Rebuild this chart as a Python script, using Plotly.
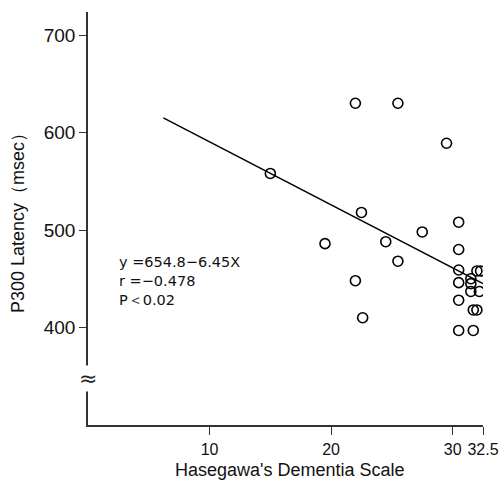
import plotly.graph_objects as go

# Data
hds = [15, 22, 25.5, 29.5, 22.5, 30.5, 27.5, 19.5, 24.5, 30.5, 25.5, 30.5, 32, 32.3,
       31.5, 22, 30.5, 31.5, 31.5, 32.2, 30.5, 22.6, 31.7, 32, 30.5, 31.7]
p300 = [558, 630, 630, 589, 518, 508, 498, 486, 488, 480, 468, 459, 458, 458,
        450, 448, 446, 445, 437, 437, 428, 410, 418, 418, 397, 397]

line_x = [6.2, 32.5]
line_y = [615, 445]

y_ticks = [400, 500, 600, 700]
x_ticks = [10, 20, 30, 32.5]
x_tick_labels = ["10", "20", "30", "32.5"]

stats_text = ["y =654.8−6.45X", "r =−0.478", "P＜0.02"]

FONT = "Liberation Sans, Arial, sans-serif"

L, R, T, B = 88, 16, 12, 55
W, H = 499, 480
plot_w = W - L - R
plot_h = H - T - B

fig = go.Figure()
fig.add_trace(go.Scatter(x=line_x, y=line_y, mode="lines",
                         line=dict(color="black", width=1.5), showlegend=False))
fig.add_trace(go.Scatter(x=hds, y=p300, mode="markers",
                         marker=dict(symbol="circle-open", size=10,
                                     line=dict(color="black", width=1.6), color="black"),
                         showlegend=False))

fig.update_layout(
    width=W, height=H,
    margin=dict(l=L, r=R, t=T, b=B, autoexpand=False),
    plot_bgcolor="white", paper_bgcolor="white",
    font=dict(family=FONT, color="#111", size=18),
    xaxis=dict(range=[0, 32.5], tickmode="array", tickvals=x_ticks, ticktext=x_tick_labels,
               showline=True, linecolor="#333", linewidth=1.5, ticks="outside",
               ticklen=8, tickcolor="#333", showgrid=False, zeroline=False,
               tickfont=dict(size=16), ticklabeloverflow="allow", ticklabelstandoff=1,
               tickangle=0, automargin=False),
    yaxis=dict(range=[300, 723.6], tickmode="array", tickvals=y_ticks,
               showline=True, linecolor="#333", linewidth=1.5, ticks="outside",
               ticklen=7, tickcolor="#333", showgrid=False, zeroline=False,
               tickfont=dict(size=19), tickangle=0, automargin=False,
               title=dict(text="P300 Latency（msec）", font=dict(size=18), standoff=14)),
)

# x-axis title
fig.add_annotation(x=(290 - L) / plot_w, y=1 - (470 - T) / plot_h, xref="paper", yref="paper",
                   text="Hasegawa's Dementia Scale", showarrow=False,
                   xanchor="center", yanchor="middle", font=dict(size=18, family=FONT, color="#111"))

# regression statistics
fig.add_annotation(x=(117 - L) / plot_w, y=1 - (281 - T) / plot_h,
                   xref="paper", yref="paper", text="<br>".join(stats_text), showarrow=False,
                   xanchor="left", yanchor="middle", align="left",
                   font=dict(size=14.5, family="DejaVu Sans", color="#111"))

# axis break mark
fig.add_annotation(x=0, y=(H - B - 378) / plot_h, xref="paper", yref="paper",
                   text="≈", showarrow=False, xanchor="center", yanchor="middle",
                   bgcolor="white", borderpad=0,
                   font=dict(size=22, family="DejaVu Sans", color="#222"))

fig.write_html("out.html")
